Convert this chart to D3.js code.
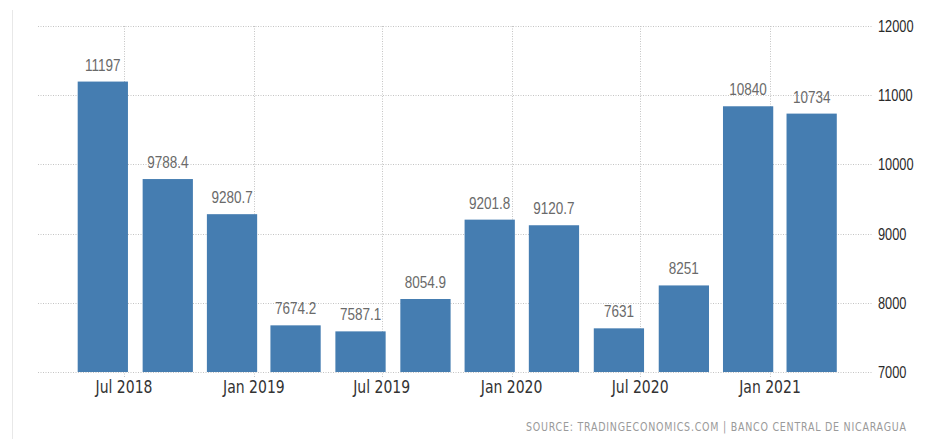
<!DOCTYPE html>
<html>
<head>
<meta charset="utf-8">
<script src="https://cdn.jsdelivr.net/npm/d3@7"></script>
<style>
  html, body { margin: 0; padding: 0; background: #fff; }
  svg { display: block; }
</style>
</head>
<body>
<svg id="chart" width="933" height="439"></svg>
<script>
// Quarterly values (bar dates) and the tick labels along the time axis
const periods = ["2018-06", "2018-09", "2018-12", "2019-03", "2019-06", "2019-09",
                 "2019-12", "2020-03", "2020-06", "2020-09", "2020-12", "2021-03"];
const values = [11197, 9788.4, 9280.7, 7674.2, 7587.1, 8054.9,
                9201.8, 9120.7, 7631, 8251, 10840, 10734];
const valueLabels = ["11197", "9788.4", "9280.7", "7674.2", "7587.1", "8054.9",
                     "9201.8", "9120.7", "7631", "8251", "10840", "10734"];
const xTickDates = ["2018-07", "2019-01", "2019-07", "2020-01", "2020-07", "2021-01"];
const xTickLabels = ["Jul 2018", "Jan 2019", "Jul 2019", "Jan 2020", "Jul 2020", "Jan 2021"];
const yTicks = [7000, 8000, 9000, 10000, 11000, 12000];
const sourceText = "SOURCE: TRADINGECONOMICS.COM | BANCO CENTRAL DE NICARAGUA";

const parse = d3.timeParse("%Y-%m");
const svg = d3.select("#chart");

const gridLeft = 38, gridRight = 873;
const stretch = 1.25; // text glyphs are drawn slightly tall
const x = d3.scaleTime()
  .domain([parse("2018-07"), parse("2021-01")])
  .range([124, 770]);
const y = d3.scaleLinear()
  .domain([7000, 12000])
  .range([372, 26]);

const dates = periods.map(parse);
const pitch = (x(dates[dates.length - 1]) - x(dates[0])) / (dates.length - 1);
const barW = pitch * 0.78;

const place = (px, py, sy = stretch) => `translate(${px},${py}) scale(1,${sy})`;

// faint frame edge on the left
svg.append("line")
  .attr("x1", 12.5).attr("x2", 12.5).attr("y1", 10).attr("y2", 439)
  .attr("stroke", "#e8e8e8").attr("stroke-width", 1);

// horizontal grid
svg.append("g").selectAll("line").data(yTicks).join("line")
  .attr("x1", gridLeft).attr("x2", gridRight)
  .attr("y1", d => Math.round(y(d)) + 0.5).attr("y2", d => Math.round(y(d)) + 0.5)
  .attr("stroke", "#c4c4c4").attr("stroke-width", 1).attr("stroke-dasharray", "1,1.5");

// vertical grid at the time ticks
svg.append("g").selectAll("line").data(xTickDates.map(parse)).join("line")
  .attr("x1", d => Math.round(x(d)) + 0.5).attr("x2", d => Math.round(x(d)) + 0.5)
  .attr("y1", y(12000)).attr("y2", y(7000) + 5)
  .attr("stroke", "#c4c4c4").attr("stroke-width", 1).attr("stroke-dasharray", "1,1.5");

// bars
svg.append("g").selectAll("rect").data(values).join("rect")
  .attr("x", (d, i) => x(dates[i]) - barW / 2)
  .attr("width", barW)
  .attr("y", d => y(d))
  .attr("height", d => y(7000) - y(d))
  .attr("fill", "#457db1");

// value labels above bars
svg.append("g").selectAll("text").data(values).join("text")
  .attr("transform", (d, i) => place(x(dates[i]), y(d) - 11))
  .attr("text-anchor", "middle")
  .attr("font-family", "'Liberation Sans', Arial, sans-serif")
  .attr("font-size", 13.5)
  .attr("fill", "#6a6a6a")
  .text((d, i) => valueLabels[i]);

// right-hand value axis labels
svg.append("g").selectAll("text").data(yTicks).join("text")
  .attr("transform", d => place(878, y(d) + 6))
  .attr("font-family", "'Liberation Sans', Arial, sans-serif")
  .attr("font-size", 12.8)
  .attr("fill", "#2a2a2a")
  .text(d => d);

// time axis labels
svg.append("g").selectAll("text").data(xTickDates).join("text")
  .attr("transform", d => place(x(parse(d)), 393))
  .attr("text-anchor", "middle")
  .attr("font-family", "'DejaVu Sans', Verdana, sans-serif")
  .attr("font-size", 14)
  .attr("fill", "#333")
  .text((d, i) => xTickLabels[i]);

// source line
svg.append("text")
  .attr("transform", place(526, 431, 1.3))
  .attr("textLength", 380)
  .attr("lengthAdjust", "spacing")
  .attr("font-family", "'DejaVu Sans', Verdana, sans-serif")
  .attr("font-size", 9.5)
  .attr("fill", "#9a9a9a")
  .text(sourceText);
</script>
</body>
</html>
